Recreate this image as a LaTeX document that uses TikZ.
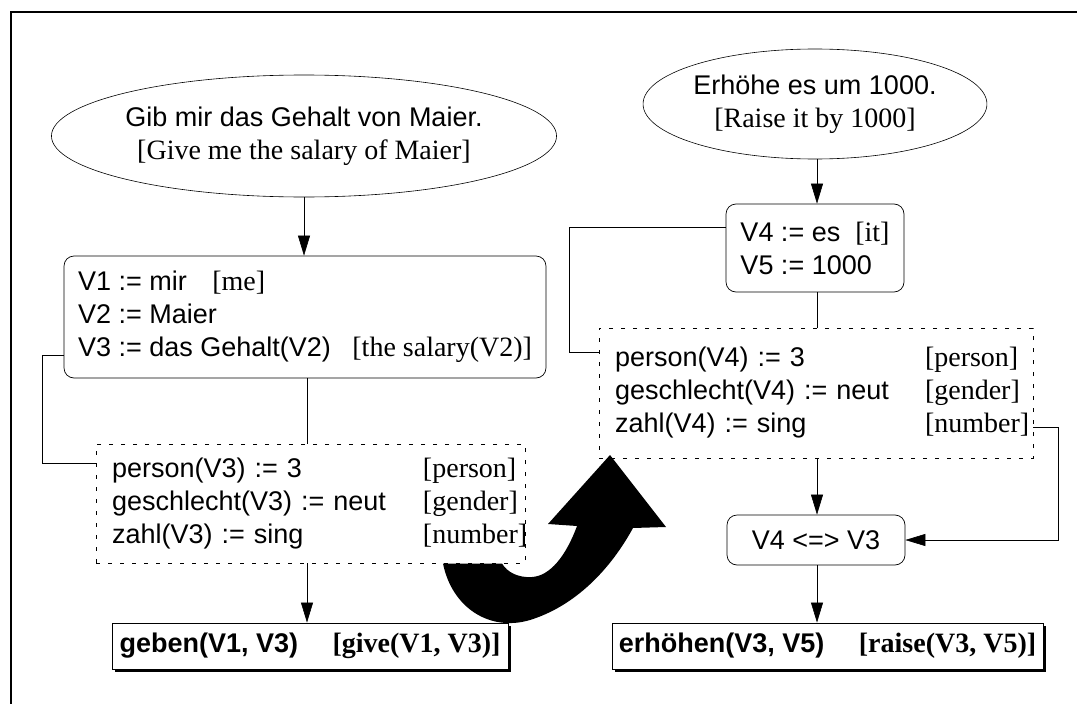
\documentclass[tikz,border=0pt]{standalone}
\usepackage{fontspec}
\setmainfont{Liberation Serif}
\setsansfont{Liberation Sans}
\usetikzlibrary{shapes.geometric,arrows.meta,shadows}
% English glosses are set in a serif face
\newcommand{\gloss}[1]{{\rmfamily\fontsize{28}{33}\selectfont #1}}
\tikzset{
  txt/.style={font=\sffamily\fontsize{27}{33}\selectfont},
  oval/.style={draw, ellipse, line width=0.6pt, inner sep=0pt, txt, align=center},
  roundbox/.style={draw, rounded corners=10pt, line width=0.7pt, fill=white, txt, align=left},
  dashbox/.style={draw, dash pattern=on 4pt off 8pt, line width=0.6pt, fill=white, txt},
  resultbox/.style={draw, line width=0.8pt, fill=white,
    font=\sffamily\bfseries\fontsize{27}{33}\selectfont,
    drop shadow={shadow xshift=3pt, shadow yshift=-3pt, fill=black, opacity=1}},
  conn/.style={line width=0.6pt},
  arr/.style={conn, -{Triangle[length=20pt,width=12pt]}},
}
\begin{document}
\begin{tikzpicture}[x=1pt,y=-1pt]
\useasboundingbox (0,0) rectangle (1077,704);
% frame
\draw[line width=2pt] (11,704) -- (11,11.4);
\draw[line width=1.2pt] (10,12) -- (1077,12);

% column axes
\coordinate (c1) at (307,0);
\coordinate (c2) at (817,0);

% ---- first utterance ----
\node[oval, minimum width=452pt, minimum height=122pt] (q1) at (304,136)
  {Gib mir das Gehalt von Maier.\\ \gloss{[Give me the salary of Maier]}};

\node[roundbox, minimum width=480pt, minimum height=122pt, inner xsep=14pt] (b1) at (305,317)
  {V1 := mir \hspace{18pt}\gloss{[me]}\\ V2 := Maier\\ V3 := das Gehalt(V2) \hspace{14pt}\gloss{[the salary(V2)]}};

\node[dashbox, minimum height=119pt, text width=397pt, inner xsep=16pt] (d1) at (310.5,503.5)
  {\begin{tabular}{@{}p{311pt}@{}l@{}}
   person(V3) := 3 & \gloss{[person]}\\
   geschlecht(V3) := neut & \gloss{[gender]}\\
   zahl(V3) := sing & \gloss{[number]}
   \end{tabular}};

\node[resultbox, minimum width=396pt, minimum height=46pt] (r1) at (310,646)
  {geben(V1, V3) \quad\gloss{[give(V1, V3)]}};

% ---- second utterance ----
\node[oval, minimum width=324pt, minimum height=110pt] (q2) at (815,104)
  {Erhöhe es um 1000.\\ \gloss{[Raise it by 1000]}};

\node[roundbox, minimum width=178pt, minimum height=88pt] (b2) at (815,248)
  {V4 := es \ \gloss{[it]}\\ V5 := 1000};

\node[dashbox, minimum height=130pt, text width=402pt, inner xsep=16pt] (d2) at (816,393)
  {\begin{tabular}{@{}p{310pt}@{}l@{}}
   person(V4) := 3 & \gloss{[person]}\\
   geschlecht(V4) := neut & \gloss{[gender]}\\
   zahl(V4) := sing & \gloss{[number]}
   \end{tabular}};

\node[roundbox, minimum width=178pt, minimum height=50pt] (b3) at (816,540) {V4 <=> V3};

\node[resultbox, minimum width=431pt, minimum height=46pt] (r2) at (827.5,646)
  {erhöhen(V3, V5) \quad\gloss{[raise(V3, V5)]}};

% ---- connectors ----
\draw[arr] (q1.south) -- (q1.south |- b1.north);
\draw[conn] (b1.south -| c1) -- (d1.north -| c1);
\draw[arr] (d1.south -| c1) -- (r1.north -| c1);
\draw[conn] ([yshift=-38pt]b1.west) -- ++(-21,0) |- ([yshift=40pt]d1.west);

\draw[arr] (q2.south -| c2) -- (b2.north -| c2);
\draw[conn] (b2.south -| c2) -- (d2.north -| c2);
\draw[arr] (d2.south -| c2) -- (b3.north -| c2);
\draw[arr] (b3.south -| c2) -- (r2.north -| c2);
\draw[conn] ([yshift=21pt]b2.west) -- ++(-156,0) |- ([yshift=41pt]d2.west);
\draw[arr] ([yshift=-34pt]d2.east) -- ++(25,0) |- (b3.east);

% ---- big curved arrow from the first analysis to the second ----
\fill (443,563.5) .. controls (452,608) and (490,632) .. (530,620)
  .. controls (575,606) and (610,570) .. (633,528)
  -- (666,527) -- (610,455) -- (548,524) -- (577,526)
  .. controls (566,556) and (550,576) .. (532,577)
  .. controls (518,578) and (507,572) .. (502,563.5) -- cycle;
\end{tikzpicture}
\end{document}
